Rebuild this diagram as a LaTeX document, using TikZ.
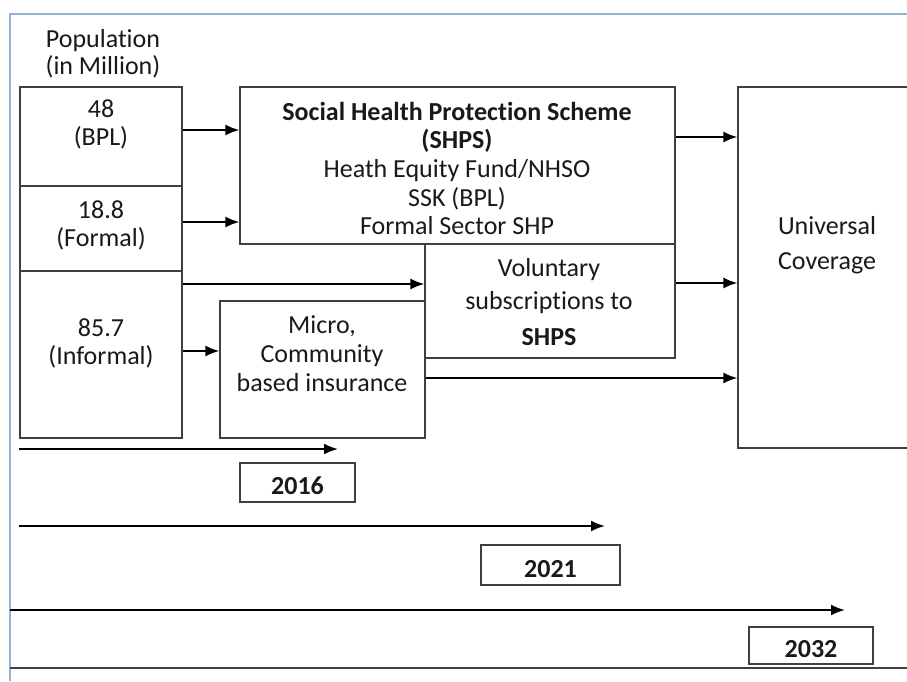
\documentclass[tikz,border=0pt]{standalone}
\usepackage{fontspec}
\setmainfont{Carlito}[Ligatures=NoCommon]
\usetikzlibrary{arrows.meta}
\usetikzlibrary{positioning}

\definecolor{framecol}{RGB}{149,179,215}

\begin{document}
\begin{tikzpicture}[x=1pt,y=-1pt,>={Latex[length=14pt,width=11pt]},
	box/.style={draw=black!75,line width=1.2pt,rectangle,inner sep=0pt},
	txt/.style={align=center,text=black!90,font=\fontsize{26}{28.7}\selectfont},
	year/.style={box,txt,text height=24pt,text depth=0pt},
	arr/.style={->,line width=2pt}]
	
	\useasboundingbox (0,0) rectangle (907,681);
	\draw[framecol,line width=1.5pt] (10,681) -- (10,14) -- (907,14);
	\draw[black!75,line width=1.2pt] (10,668) -- (907,668);
	
	% population column
	\node[txt,font=\fontsize{26}{27}\selectfont] (pop) at (103,54) {Population\\(in Million)};
	\node[box,minimum width=162,minimum height=99] (bpl) at (101,136.5) {};
	\node[box,minimum width=162,minimum height=85] (formal) at (101,228.5) {};
	\node[box,minimum width=162,minimum height=167] (informal) at (101,354.5) {};
	\node[txt] (bpl txt) at (101,124.5) {48\\(BPL)};
	\node[txt] (formal txt) at (101,225.5) {18.8\\(Formal)};
	\node[txt] (informal txt) at (101,343.5) {85.7\\(Informal)};
	
	% schemes
	\node[box,minimum width=435,minimum height=157] (shps) at (457.5,165.5) {};
	\node[box,minimum width=250,minimum height=114] (vol) at (550,301) {};
	\node[box,minimum width=205,minimum height=137] (micro) at (322.5,369.5) {};
	\node[box,fill=white,minimum width=172,minimum height=361] (uc) at (824,267.5) {};
	\node[txt] (shps txt) at (457,168.5) {\textbf{Social Health Protection Scheme}\\\textbf{(SHPS)}\\Heath Equity Fund/NHSO\\SSK (BPL)\\Formal Sector SHP};
	\node[txt] (vol txt) at (549,302) {Voluntary\\[4pt]subscriptions to\\[7pt]\textbf{SHPS}};
	\node[txt] (micro txt) at (322,353.5) {Micro,\\Community\\based insurance};
	\node[txt] (uc txt) at (827,245.5) {Universal\\[6pt]Coverage};
	
	\draw[arr] (bpl.east |- 0,130) -- (shps.west |- 0,130);
	\draw[arr] (formal.east |- 0,222) -- (shps.west |- 0,222);
	\draw[arr] (informal.east |- 0,284) -- (vol.west |- 0,284);
	\draw[arr] (informal.east |- 0,351) -- (micro.west |- 0,351);
	\draw[arr] (shps.east |- 0,137) -- (uc.west |- 0,137);
	\draw[arr] (vol.east |- 0,283) -- (uc.west |- 0,283);
	\draw[arr] (micro.east |- 0,378) -- (uc.west |- 0,378);
	
	% timeline
	\coordinate (t1 start) at (19,449);
	\coordinate (t1 end) at (338,449);
	\coordinate (t2 start) at (19,526);
	\coordinate (t2 end) at (605,526);
	\coordinate (t3 start) at (10,610);
	\coordinate (t3 end) at (845,610);
	\draw[arr] (t1 start) -- (t1 end);
	\draw[arr] (t2 start) -- (t2 end);
	\draw[arr] (t3 start) -- (t3 end);
	
	\node[year,minimum width=115,minimum height=39] (y2016) at (297.5,482.5) {\textbf{2016}};
	\node[year,minimum width=139,minimum height=40] (y2021) at (550.5,565) {\textbf{2021}};
	\node[year,minimum width=124,minimum height=37] (y2032) at (811,645.5) {\textbf{2032}};
\end{tikzpicture}
\end{document}
